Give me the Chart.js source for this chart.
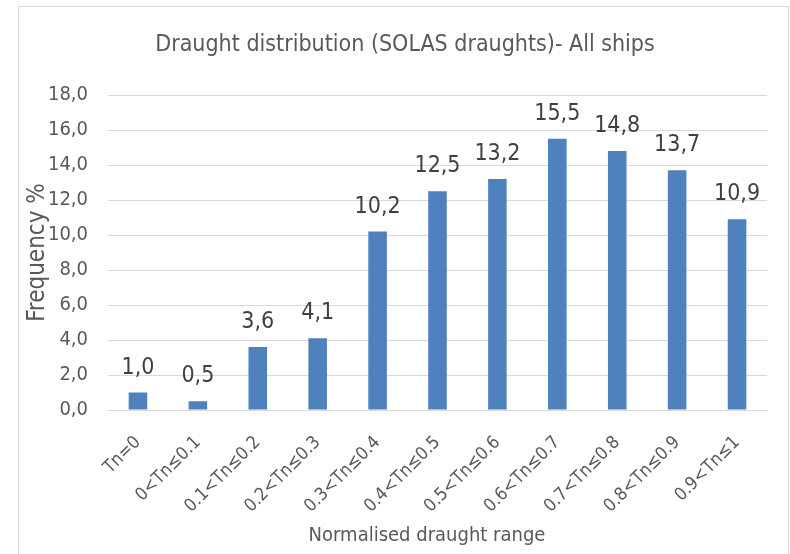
<!DOCTYPE html>
<html>
<head>
<meta charset="utf-8">
<script src="https://cdn.jsdelivr.net/npm/chart.js@4/dist/chart.umd.min.js"></script>
<style>
  html, body { margin:0; padding:0; background:#fff; overflow:hidden; }
  #frame { position:absolute; left:18px; top:6px; width:769px; height:560px; border:1px solid #d9d9d9; background:#fff; }
  canvas { display:block; }
</style>
</head>
<body>
<div id="frame"><canvas id="c" width="769" height="547"></canvas></div>
<script>
const titleText = "Draught distribution (SOLAS draughts)- All ships";
const xAxisTitle = "Normalised draught range";
const yAxisTitle = "Frequency %";
const categories = ["Tn=0","0<Tn≤0.1","0.1<Tn≤0.2","0.2<Tn≤0.3","0.3<Tn≤0.4","0.4<Tn≤0.5","0.5<Tn≤0.6","0.6<Tn≤0.7","0.7<Tn≤0.8","0.8<Tn≤0.9","0.9<Tn≤1"];
const frequency = [1.0, 0.5, 3.6, 4.1, 10.2, 12.5, 13.2, 15.5, 14.8, 13.7, 10.9];
const yTicks = [0, 2, 4, 6, 8, 10, 12, 14, 16, 18];

const FONT = "'Liberation Sans Narrow', 'Arial Narrow', 'DejaVu Sans Condensed', sans-serif";
const fmt = v => v.toFixed(1).replace('.', ',');

const decorations = {
  id: 'decorations',
  afterDatasetsDraw(chart) {
    const ctx = chart.ctx;
    const meta = chart.getDatasetMeta(0);
    ctx.save();
    ctx.font = "23px " + FONT;
    ctx.fillStyle = '#404040';
    ctx.textAlign = 'center';
    ctx.textBaseline = 'alphabetic';
    meta.data.forEach((bar, i) => {
      ctx.fillText(fmt(frequency[i]), bar.x, bar.y - 19);
    });
    // chart title
    ctx.fillStyle = '#595959';
    ctx.textBaseline = 'middle';
    ctx.font = "23px " + FONT;
    ctx.fillText(titleText, 386, 38);
    // x axis title
    ctx.font = "20px " + FONT;
    ctx.fillText(xAxisTitle, 408, 529);
    ctx.restore();
  }
};

new Chart(document.getElementById('c'), {
  type: 'bar',
  data: {
    labels: categories,
    datasets: [{
      data: frequency,
      backgroundColor: '#4f81bd',
      borderWidth: 0,
      categoryPercentage: 1.0,
      barPercentage: 0.31
    }]
  },
  options: {
    responsive: false,
    animation: false,
    devicePixelRatio: 1,
    layout: { padding: { left: 0, right: 21, top: 88, bottom: 0 } },
    plugins: {
      legend: { display: false },
      tooltip: { enabled: false },
      title: { display: false }
    },
    scales: {
      x: {
        grid: { display: false, drawTicks: false },
        border: { display: true, color: '#d9d9d9' },
        ticks: {
          color: '#595959',
          font: { family: FONT, size: 18 },
          minRotation: 45, maxRotation: 45,
          padding: 22,
          autoSkip: false
        },
        afterFit(scale) { scale.height = 144; }
      },
      y: {
        min: 0, max: 18,
        afterBuildTicks(scale) { scale.ticks = yTicks.map(v => ({ value: v })); },
        grid: { color: '#d9d9d9', drawTicks: false, lineWidth: 1 },
        border: { display: false },
        ticks: {
          color: '#595959',
          font: { family: FONT, size: 20 },
          padding: 20,
          callback: v => fmt(v)
        },
        title: {
          display: true,
          text: yAxisTitle,
          color: '#595959',
          font: { family: FONT, size: 24 },
          padding: { top: 4, bottom: 0 }
        },
        afterFit(scale) { scale.width = 89; }
      }
    }
  },
  plugins: [decorations]
});
</script>
</body>
</html>
